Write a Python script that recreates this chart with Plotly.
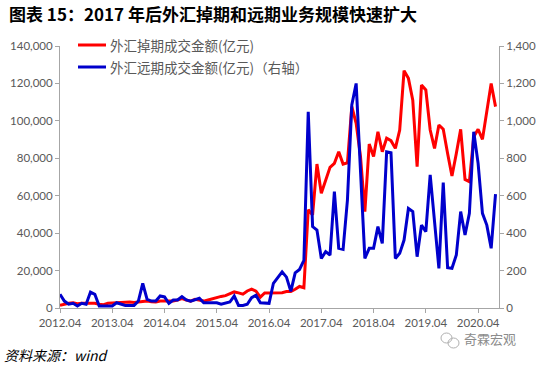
import plotly.graph_objects as go

# month labels (2012.04 .. 2020.08)
months = []
y, m = 2012, 4
for _ in range(101):
    months.append(f"{y}.{m:02d}")
    m += 1
    if m > 12:
        m = 1
        y += 1

# 外汇掉期成交金额(亿元) - left axis
swap = [1400, 2100, 2500, 2800, 2300, 2500, 2600, 2800, 2500, 2000,
        1800, 2500, 2700, 2500, 2700, 3200, 3200, 3000, 3200, 3700,
        3700, 3400, 3200, 3700, 3700, 4100, 3700, 4300, 5000, 4300,
        3700, 4600, 4300, 3700, 4300, 5000, 5800, 6200, 6600, 7500,
        8600, 8100, 7400, 9100, 10100, 9000, 5800, 8000, 8000, 8000,
        8000, 8200, 8800, 8800, 10000, 11500, 10800, 52500, 49700, 76900,
        61300, 68400, 75200, 77300, 83500, 76900, 77600, 107600, 98700, 80900,
        51500, 87600, 80900, 94200, 83500, 90700, 89400, 85300, 95100, 126800,
        122700, 111100, 75500, 119100, 116500, 95100, 85300, 97800, 95500, 82600,
        70500, 82600, 95500, 68700, 67500, 91500, 95500, 90100, 104000, 120000,
        107600]

# 外汇远期成交金额(亿元)（右轴）
fwd = [73, 37, 20, 25, 11, 25, 20, 85, 73, 11,
       11, 11, 11, 28, 20, 14, 14, 14, 37, 132,
       46, 37, 37, 64, 59, 25, 43, 43, 61, 43,
       37, 43, 52, 28, 28, 25, 28, 20, 25, 32,
       64, 14, 14, 20, 55, 68, 28, 28, 25, 132,
       165, 193, 165, 89, 188, 206, 254, 1049, 435, 417,
       265, 301, 283, 622, 319, 313, 577, 1085, 1200, 720,
       265, 319, 319, 435, 345, 835, 830, 265, 292, 363,
       532, 515, 274, 443, 408, 711, 470, 212, 670, 215,
       212, 283, 515, 390, 506, 942, 773, 506, 443, 319,
       609]

series_names = ["外汇掉期成交金额(亿元)", "外汇远期成交金额(亿元)（右轴）"]
series_colors = ["#FF0000", "#0000CC"]

tick_idx = [0, 12, 24, 36, 48, 60, 72, 84, 96]
tick_text = [months[i] for i in tick_idx]
xs = list(range(len(months)))

# plot area geometry (pixels)
L, R, T, B = 60, 499, 46, 308
PW, PH = R - L, B - T


def px(xp):
    return (xp - L) / PW


def py(yp):
    return (B - yp) / PH


fig = go.Figure()
fig.add_trace(go.Scatter(x=xs, y=swap, mode="lines", name=series_names[0],
                         line=dict(color=series_colors[0], width=3),
                         customdata=months, showlegend=False))
fig.add_trace(go.Scatter(x=xs, y=fwd, mode="lines", name=series_names[1],
                         line=dict(color=series_colors[1], width=3), yaxis="y2",
                         customdata=months, showlegend=False))

axis_col = "#A6A6A6"
tick_font = dict(family="Lato, Liberation Sans, sans-serif", size=11.5, color="#595959")

annotations = [
    dict(text="<b>图表 15：2017 年后外汇掉期和远期业务规模快速扩大</b>",
         xref="paper", yref="paper", x=px(7), y=py(13),
         xanchor="left", yanchor="middle", showarrow=False,
         font=dict(family="Noto Sans CJK SC", size=17, color="#000000")),
    dict(text="<i>资料来源：wind</i>", xref="paper", yref="paper",
         x=px(2), y=py(355), xanchor="left", yanchor="middle",
         showarrow=False, font=dict(family="Noto Sans CJK SC", size=14, color="#000000")),
    dict(text="奇霖宏观", xref="paper", yref="paper",
         x=px(462), y=py(338), xanchor="left", yanchor="middle",
         showarrow=False, font=dict(family="Noto Sans CJK SC", size=13, color="#8C8C8C")),
]
shapes = [
    dict(type="circle", xref="paper", yref="paper",
         x0=px(441), x1=px(452), y0=py(343), y1=py(333),
         line=dict(color="#B0B0B0", width=1)),
    dict(type="circle", xref="paper", yref="paper",
         x0=px(448), x1=px(459), y0=py(348), y1=py(338),
         line=dict(color="#B0B0B0", width=1)),
]
# legend (drawn manually)
for k, (nm, col) in enumerate(zip(series_names, series_colors)):
    yy = 45 + 22 * k
    shapes.append(dict(type="line", xref="paper", yref="paper",
                       x0=px(78), x1=px(106), y0=py(yy), y1=py(yy),
                       line=dict(color=col, width=3)))
    annotations.append(dict(text=nm, xref="paper", yref="paper", x=px(108), y=py(yy),
                            xanchor="left", yanchor="middle", showarrow=False,
                            font=dict(family="Noto Sans CJK SC", size=13.5, color="#595959")))

fig.update_layout(
    width=550, height=369,
    margin=dict(l=L, r=550 - R, t=T, b=369 - B, autoexpand=False),
    paper_bgcolor="white", plot_bgcolor="white",
    showlegend=False,
    xaxis=dict(range=[0, 100.8], tickvals=tick_idx, ticktext=tick_text,
               showgrid=False, zeroline=False, showline=True, linecolor=axis_col,
               linewidth=1, ticks="outside", ticklen=4, tickcolor=axis_col,
               tickfont=tick_font, automargin=False),
    yaxis=dict(range=[0, 140000], dtick=20000, tickformat=",", showgrid=False,
               zeroline=False, showline=True, linecolor=axis_col, linewidth=1,
               ticks="outside", ticklen=4, tickcolor=axis_col, tickfont=tick_font,
               automargin=False),
    yaxis2=dict(range=[0, 1400], dtick=200, tickformat=",", overlaying="y", side="right",
                showgrid=False, zeroline=False, showline=True, linecolor=axis_col,
                linewidth=1, ticks="outside", ticklen=4, tickcolor=axis_col,
                tickfont=tick_font, automargin=False),
    annotations=annotations,
    shapes=shapes,
)

fig.write_html("out.html", config={"displayModeBar": False},
               post_script="document.body.style.margin='0px';")
